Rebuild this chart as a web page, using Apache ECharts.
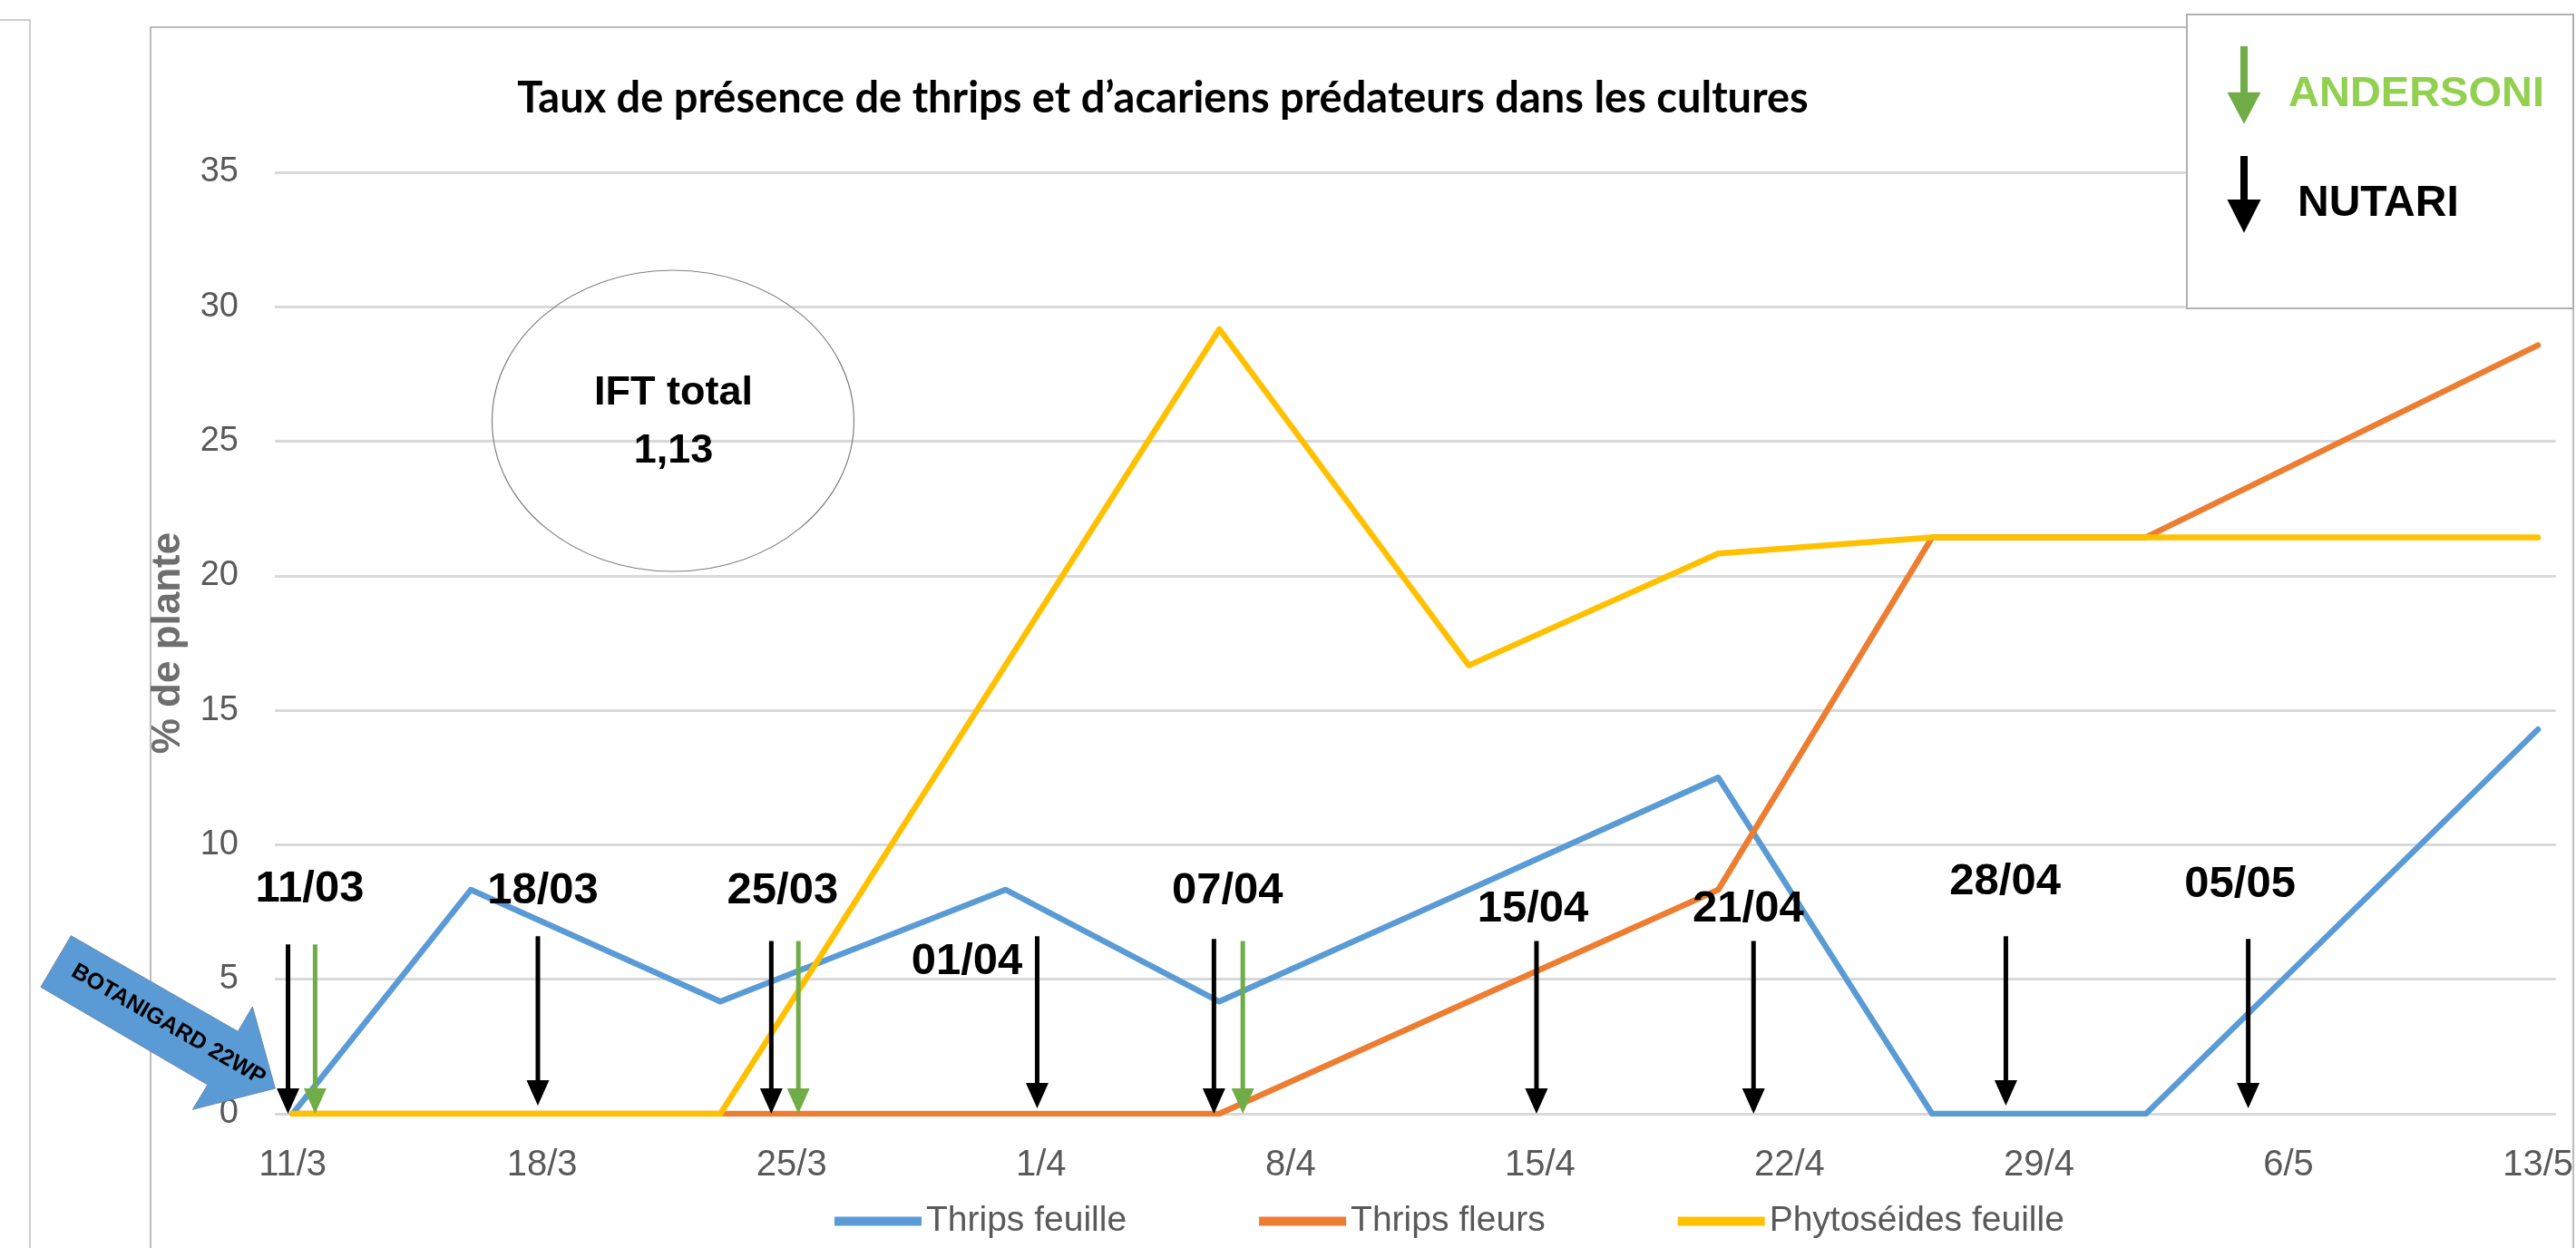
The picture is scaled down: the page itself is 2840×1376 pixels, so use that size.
<!DOCTYPE html>
<html>
<head>
<meta charset="utf-8">
<script src="https://cdn.jsdelivr.net/npm/echarts@6/dist/echarts.min.js"></script>
<style>
html,body{margin:0;padding:0;background:#fff;}
#chart{width:2840px;height:1376px;}
</style>
</head>
<body>
<div id="chart"></div>
<script>
// ---------- DATA ----------
const seriesNames = ['Thrips feuille', 'Thrips fleurs', 'Phytoséides feuille'];
// sampling days, counted in days from 11/3 (11/3,16/3,23/3,31/3,6/4,13/4,20/4,26/4,2/5,13/5)
const sampleDays = [0, 5, 12, 20, 26, 33, 40, 46, 52, 63];
const thripsFeuille = [0, 8.33, 4.17, 8.33, 4.17, 8.33, 12.5, 0, 0, 14.29];
const thripsFleurs = [0, 0, 0, 0, 0, 4.17, 8.33, 21.43, 21.43, 28.57];
const phytoseidesFeuille = [0, 0, 0, 16.67, 29.17, 16.67, 20.83, 21.43, 21.43, 21.43];
const tickDays = [0, 7, 14, 21, 28, 35, 42, 49, 56, 63];
const tickLabels = ['11/3', '18/3', '25/3', '1/4', '8/4', '15/4', '22/4', '29/4', '6/5', '13/5'];
// predator releases: [day, arrow start value, arrow tip value]
const nutariReleases = [[-0.13, 6.3, 0], [6.88, 6.6, 0.3], [13.43, 6.42, 0], [20.89, 6.6, 0.2], [25.85, 6.5, 0], [34.9, 6.42, 0], [40.99, 6.42, 0], [48.07, 6.6, 0.3], [54.87, 6.5, 0.2]];
const andersoniReleases = [[0.63, 6.3, 0], [14.19, 6.42, 0], [26.66, 6.42, 0]];
const releaseLabels = ['11/03', '18/03', '25/03', '01/04', '07/04', '15/04', '21/04', '28/04', '05/05'];
const releaseLabelAt = [[0.48, 8.36], [7.02, 8.29], [13.75, 8.28], [18.92, 5.65], [26.23, 8.29], [34.8, 7.59], [40.84, 7.59], [48.05, 8.6], [54.64, 8.52]];
const titleText = 'Taux de présence de thrips et d’acariens prédateurs dans les cultures';
const iftLines = ['IFT total', '1,13'];
const treatmentText = 'BOTANIGARD 22WP';
const releaseLegend = ['ANDERSONI', 'NUTARI'];

// ---------- CHART ----------
const colors = ['#5b9bd5', '#ed7d31', '#ffc000'];
const GREEN = '#70ad47';
const FONT = '"Liberation Sans", Arial, sans-serif';
const chart = echarts.init(document.getElementById('chart'), null, {renderer: 'canvas'});

function pairs(vals) { return sampleDays.map((d, i) => [d, vals[i]]); }

function renderArrow(params, api) {
  const top = api.coord([api.value(0), api.value(1)]);
  const tip = api.coord([api.value(0), api.value(2)]);
  const color = api.value(3) === 1 ? GREEN : '#000000';
  const headL = 28, headW = 25;
  return {
    type: 'group',
    children: [
      {type: 'line', shape: {x1: top[0], y1: top[1], x2: tip[0], y2: tip[1] - headL + 2},
        style: {stroke: color, lineWidth: 5}},
      {type: 'polygon', shape: {points: [[tip[0] - headW / 2, tip[1] - headL], [tip[0] + headW / 2, tip[1] - headL], [tip[0], tip[1]]]},
        style: {fill: color}}
    ]
  };
}

function renderLabel(params, api) {
  const p = api.coord([api.value(0), api.value(1)]);
  return {
    type: 'text', x: p[0], y: p[1],
    style: {
      text: releaseLabels[api.value(2)],
      font: 'bold 49px ' + FONT,
      fill: '#000000',
      textAlign: 'center', textVerticalAlign: 'middle', align: 'center', verticalAlign: 'middle'
    }
  };
}

const lineSeries = [thripsFeuille, thripsFleurs, phytoseidesFeuille].map((vals, i) => ({
  name: seriesNames[i],
  type: 'line',
  data: pairs(vals),
  symbol: 'none',
  showSymbol: false,
  z: 3,
  lineStyle: {color: colors[i], width: 6.5, cap: 'round', join: 'round'},
  itemStyle: {color: colors[i]}
}));

const option = {
  animation: false,
  backgroundColor: '#ffffff',
  title: {
    text: titleText,
    left: 1282, top: 85, padding: 0,
    textAlign: 'center',
    textStyle: {fontFamily: 'Lato', fontWeight: 'bold', fontSize: 47, color: '#000000'}
  },
  grid: {left: 303, right: 7, top: 190, bottom: 148, containLabel: false},
  legend: {
    data: seriesNames,
    left: 920, top: 1327, padding: 0,
    icon: 'rect', itemWidth: 96, itemHeight: 10, itemGap: 146,
    textStyle: {fontFamily: FONT, fontSize: 39, color: '#595959'}
  },
  xAxis: {
    type: 'value',
    min: -0.5, max: 63.5,
    axisLine: {show: false},
    axisTick: {show: false},
    splitLine: {show: false},
    axisLabel: {
      customValues: tickDays,
      formatter: v => tickLabels[tickDays.indexOf(Math.round(v))] || '',
      margin: 37,
      fontFamily: FONT,
      fontSize: 40, color: '#595959'
    }
  },
  yAxis: {
    type: 'value',
    min: 0, max: 35, interval: 5,
    name: '% de plante',
    nameLocation: 'middle',
    nameGap: 95,
    nameTextStyle: {fontFamily: FONT, fontWeight: 'bold', fontSize: 44, color: '#6e6e6e'},
    axisLine: {show: false},
    axisTick: {show: false},
    splitLine: {show: true, lineStyle: {color: '#d9d9d9', width: 3}},
    axisLabel: {
      margin: 40,
      fontFamily: FONT,
      fontSize: 38, color: '#595959'
    }
  },
  series: lineSeries.concat([
    {
      name: 'NUTARI', type: 'custom', renderItem: renderArrow, z: 5,
      data: nutariReleases.map(r => [r[0], r[1], r[2], 0]),
      encode: {x: 0, y: 1}, silent: true
    },
    {
      name: 'ANDERSONI', type: 'custom', renderItem: renderArrow, z: 5,
      data: andersoniReleases.map(r => [r[0], r[1], r[2], 1]),
      encode: {x: 0, y: 1}, silent: true
    },
    {
      name: 'dates', type: 'custom', renderItem: renderLabel, z: 6,
      data: releaseLabelAt.map((p, i) => [p[0], p[1], i]),
      encode: {x: 0, y: 1}, silent: true
    }
  ])
};

chart.setOption(option);

// ---------- ANNOTATION SHAPES ----------
const o = chart.convertToPixel({gridIndex: 0}, [0, 0]);
const rel = pts => pts.map(p => [o[0] + p[0], o[1] + p[1]]);

chart.setOption({
  graphic: [
    // outer chart border
    {type: 'rect', z: 0, silent: true, shape: {x: 166, y: 30, width: 2671, height: 1400},
      style: {fill: null, stroke: '#a6a6a6', lineWidth: 1.5}},
    // neighbouring frame on the far left
    {type: 'polyline', z: 0, silent: true, shape: {points: [[0, 22], [33, 22], [33, 1376]]},
      style: {fill: null, stroke: '#bfbfbf', lineWidth: 1.5}},
    // IFT ellipse
    {type: 'ellipse', z: 10, silent: true, shape: {cx: 742, cy: 464, rx: 199.5, ry: 166},
      style: {fill: null, stroke: '#808080', lineWidth: 1.2}},
    {type: 'text', z: 11, silent: true, x: 742.5, y: 434,
      style: {text: iftLines[0], font: 'bold 45px ' + FONT, fill: '#000',
        textAlign: 'center', textVerticalAlign: 'middle', align: 'center', verticalAlign: 'middle'}},
    {type: 'text', z: 11, silent: true, x: 742.5, y: 498,
      style: {text: iftLines[1], font: 'bold 45px ' + FONT, fill: '#000',
        textAlign: 'center', textVerticalAlign: 'middle', align: 'center', verticalAlign: 'middle'}},
    // BOTANIGARD block arrow
    {type: 'polygon', z: 20, silent: true,
      shape: {points: rel([[-244.3, -196.3], [-60.3, -90.7], [-44.3, -118], [-19.3, -28], [-110.3, -4.7], [-93.7, -32], [-277.7, -139.7]])},
      style: {fill: '#5b9bd5', stroke: '#6a88a8', lineWidth: 1}},
    {type: 'text', z: 21, silent: true, x: o[0] - 137, y: o[1] - 98, rotation: -Math.PI / 6,
      style: {text: treatmentText, font: 'bold 25px ' + FONT, fill: '#000',
        textAlign: 'center', textVerticalAlign: 'middle', align: 'center', verticalAlign: 'middle'}},
    // release legend box
    {type: 'rect', z: 30, silent: true, shape: {x: 2411, y: 16, width: 426, height: 324},
      style: {fill: '#ffffff', stroke: '#b0b0b0', lineWidth: 2}},
    {type: 'line', z: 31, silent: true, shape: {x1: 2474, y1: 51, x2: 2474, y2: 104},
      style: {stroke: GREEN, lineWidth: 8}},
    {type: 'polygon', z: 31, silent: true, shape: {points: [[2455.5, 101.7], [2492.5, 101.7], [2474, 136.7]]},
      style: {fill: GREEN}},
    {type: 'text', z: 31, silent: true, x: 2523, y: 104,
      style: {text: releaseLegend[0], font: 'bold 47px ' + FONT, fill: '#92d050',
        textAlign: 'left', textVerticalAlign: 'middle', align: 'left', verticalAlign: 'middle'}},
    {type: 'line', z: 31, silent: true, shape: {x1: 2474, y1: 172, x2: 2474, y2: 222},
      style: {stroke: '#000', lineWidth: 8}},
    {type: 'polygon', z: 31, silent: true, shape: {points: [[2455.5, 220], [2492.5, 220], [2474, 256.7]]},
      style: {fill: '#000'}},
    {type: 'text', z: 31, silent: true, x: 2533, y: 225,
      style: {text: releaseLegend[1], font: 'bold 48px ' + FONT, fill: '#000',
        textAlign: 'left', textVerticalAlign: 'middle', align: 'left', verticalAlign: 'middle'}}
  ]
});
</script>
</body>
</html>
